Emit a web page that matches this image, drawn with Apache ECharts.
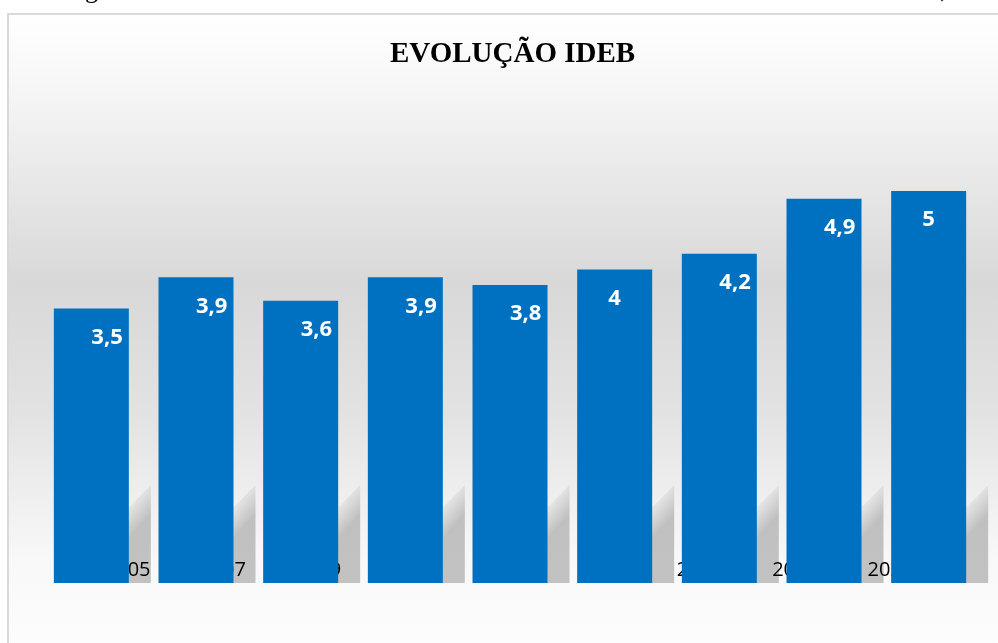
<!DOCTYPE html>
<html>
<head>
<meta charset="utf-8">
<script src="https://cdn.jsdelivr.net/npm/echarts@6/dist/echarts.min.js"></script>
<style>
  html, body { margin: 0; padding: 0; background: #fff; }
  #chart { width: 998px; height: 643px; }
</style>
</head>
<body>
<div id="chart"></div>
<script>
// IDEB data
const years = ['2005', '2007', '2009', '2011', '2013', '2015', '2017', '2019', '2021']
const ideb = [3.5, 3.9, 3.6, 3.9, 3.8, 4, 4.2, 4.9, 5]

const chart = echarts.init(document.getElementById('chart'))

const fmt = v => String(v).replace('.', ',')

chart.setOption({
  animation: false,
  title: {
    text: 'EVOLUÇÃO IDEB',
    left: 385,
    top: 35,
    textStyle: {
      fontFamily: 'Liberation Serif',
      fontWeight: 'bold',
      fontSize: 29,
      color: '#000',
    },
  },
  graphic: [
    {
      type: 'rect',
      z: -10,
      shape: { x: 8, y: 14, width: 1000, height: 640 },
      style: {
        fill: new echarts.graphic.LinearGradient(0, 0, 0, 1, [
          { offset: 0, color: '#ffffff' },
          { offset: 0.12, color: '#f6f6f6' },
          { offset: 0.42, color: '#d8d8d8' },
          { offset: 0.62, color: '#e2e2e2' },
          { offset: 0.85, color: '#f8f8f8' },
          { offset: 1, color: '#fdfdfd' },
        ]),
        stroke: '#d9d9d9',
        lineWidth: 2,
      },
    },
    {
      type: 'text',
      z: -5,
      x: 85,
      y: 4,
      style: { text: 'g', font: '26px "Liberation Serif"', fill: '#000', verticalAlign: 'bottom' },
    },
    {
      type: 'text',
      z: -5,
      x: 940,
      y: 4,
      style: { text: ',', font: '26px "Liberation Serif"', fill: '#000', verticalAlign: 'bottom' },
    },
  ],
  grid: [
    { left: 39, right: 17, top: 112.6, bottom: 60 },
    { left: 80, right: 60, top: 112.6, bottom: 60 },
  ],
  xAxis: [
    {
      type: 'category',
      gridIndex: 0,
      data: years,
      axisLine: { show: false },
      axisTick: { show: false },
      axisLabel: { show: false },
    },
    {
      type: 'category',
      gridIndex: 1,
      data: years,
      z: 3,
      axisLine: { show: false },
      axisTick: { show: false },
      axisLabel: {
        margin: -23,
        fontFamily: 'Open Sans',
        fontSize: 20,
        color: '#000',
      },
    },
  ],
  yAxis: [
    { type: 'value', gridIndex: 0, min: 0, max: 6, show: false },
    { type: 'value', gridIndex: 1, min: 0, max: 6, show: false },
  ],
  series: [
    {
      // soft perspective shadow behind each bar
      type: 'custom',
      xAxisIndex: 0,
      yAxisIndex: 0,
      z: 1,
      silent: true,
      data: years.map((y, i) => [i, ideb[i]]),
      renderItem(params, api) {
        const p = api.coord([api.value(0), 0])
        const xR = p[0] + 37.5
        const mx = xR - 20
        const my = p[1] - 42
        return {
          type: 'polygon',
          shape: {
            points: [
              [xR - 75, p[1]],
              [xR + 22, p[1]],
              [xR + 22, p[1] - 98],
            ],
          },
          style: {
            fill: new echarts.graphic.LinearGradient(
              mx - 10, my - 9, mx + 10, my + 9,
              [
                { offset: 0, color: 'rgba(175,175,175,0)' },
                { offset: 1, color: 'rgba(175,175,175,0.75)' },
              ],
              true
            ),
          },
        }
      },
    },
    {
      type: 'bar',
      xAxisIndex: 0,
      yAxisIndex: 0,
      z: 5,
      barWidth: 75,
      itemStyle: { color: '#0070C0' },
      data: ideb.map(v => ({
        value: v,
        label: { align: Number.isInteger(v) ? 'center' : 'left' },
      })),
      label: {
        show: true,
        position: 'insideTop',
        distance: 18,
        formatter: p => fmt(p.value),
        fontFamily: 'Noto Sans',
        fontWeight: 'bold',
        fontSize: 22,
        color: '#fff',
      },
    },
  ],
})
</script>
</body>
</html>
